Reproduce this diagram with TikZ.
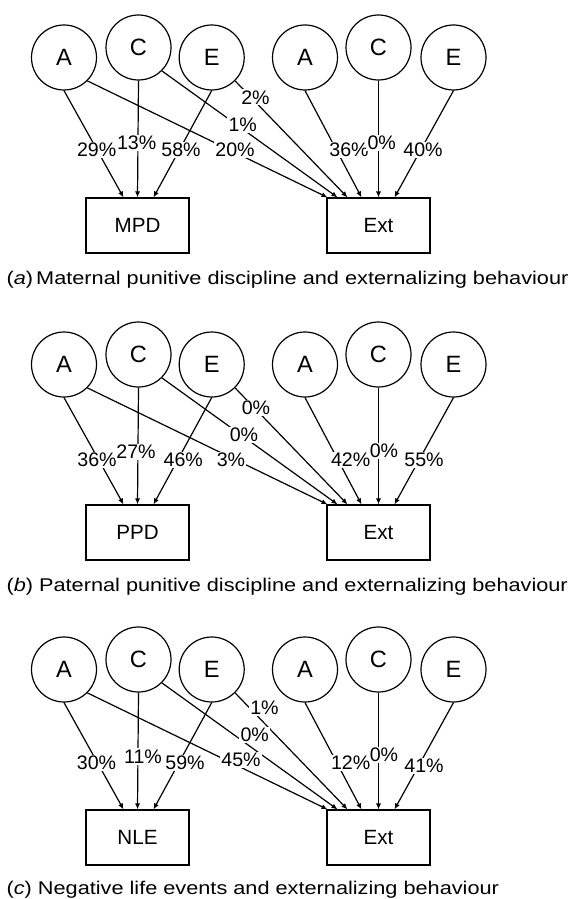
\documentclass[tikz,border=0pt]{standalone}
\usepackage{fontspec}
\setmainfont{Liberation Sans}
\newfontfamily\capfont[FakeStretch=1.18]{Liberation Sans}
\usetikzlibrary{arrows.meta,calc}

\tikzset{
  ace/.style={circle,draw,minimum size=32.5pt,inner sep=0pt,font=\fontsize{11.8}{13}\selectfont},
  obs/.style={rectangle,draw,minimum width=51.5pt,minimum height=27.5pt,inner sep=0pt,font=\fontsize{10.3}{12}\selectfont},
  link/.style={-{Latex[length=3pt,width=2.6pt]}},
  pct/.style={fill=white,inner sep=0.6pt,font=\fontsize{9.8}{11}\selectfont},
  captext/.style={anchor=west,inner sep=0pt,font=\capfont\fontsize{9.2}{11}\selectfont}
}

\begin{document}
\begin{tikzpicture}[x=0.5pt,y=-0.5pt,line width=0.6pt]
	\useasboundingbox (0,0) rectangle (574,899);
	\begin{scope}
	\node[ace] (aA) at (64,57.5) {A};
	\node[ace] (aC) at (138.5,47.5) {C};
	\node[ace] (aE) at (211.7,57.5) {E};
	\node[ace] (aA2) at (305,57.5) {A};
	\node[ace] (aC2) at (378.5,47.5) {C};
	\node[ace] (aE2) at (453.5,57.5) {E};
	\node[obs] (aMPD) at (137.5,225.5) {MPD};
	\node[obs] (aExt) at (378.5,225.5) {Ext};
	\draw[link] (aA.south) -- ($(aMPD.north)+(-14,0)$);
	\draw[link] (aC.south) -- (aMPD.north);
	\draw[link] (aE.south) -- ($(aMPD.north)+(16,0)$);
	\draw[link] (aA.south east) -- ($(aExt.north)+(-51,0)$);
	\draw[link] (aC.south east) -- ($(aExt.north)+(-41,0)$);
	\draw[link] (aE.south east) -- ($(aExt.north)+(-31,0)$);
	\draw[link] (aA2.south) -- ($(aExt.north)+(-17,0)$);
	\draw[link] (aC2.south) -- (aExt.north);
	\draw[link] (aE2.south) -- ($(aExt.north)+(16,0)$);
	\node[pct] (aAp) at (96.7,150) {29\%};
	\node[pct] (aCp) at (136.7,142.7) {13\%};
	\node[pct] (aEp) at (181,150) {58\%};
	\node[pct] (aAq) at (235,150) {20\%};
	\node[pct] (aCq) at (242.7,125) {1\%};
	\node[pct] (aEq) at (255.5,97.3) {2\%};
	\node[pct] (aA2p) at (349,150) {36\%};
	\node[pct] (aC2p) at (381.7,143) {0\%};
	\node[pct] (aE2p) at (423,150) {40\%};
	\node[captext] (acap) at (6,280) {(\textit{a})\,Maternal punitive discipline and externalizing behaviour};
	\end{scope}
	\begin{scope}[shift={(0,307)}]
	\node[ace] (bA) at (64,57.5) {A};
	\node[ace] (bC) at (138.5,47.5) {C};
	\node[ace] (bE) at (211.7,57.5) {E};
	\node[ace] (bA2) at (305,57.5) {A};
	\node[ace] (bC2) at (378.5,47.5) {C};
	\node[ace] (bE2) at (453.5,57.5) {E};
	\node[obs] (bPPD) at (137.5,225.5) {PPD};
	\node[obs] (bExt) at (378.5,225.5) {Ext};
	\draw[link] (bA.south) -- ($(bPPD.north)+(-14,0)$);
	\draw[link] (bC.south) -- (bPPD.north);
	\draw[link] (bE.south) -- ($(bPPD.north)+(16,0)$);
	\draw[link] (bA.south east) -- ($(bExt.north)+(-51,0)$);
	\draw[link] (bC.south east) -- ($(bExt.north)+(-41,0)$);
	\draw[link] (bE.south east) -- ($(bExt.north)+(-31,0)$);
	\draw[link] (bA2.south) -- ($(bExt.north)+(-17,0)$);
	\draw[link] (bC2.south) -- (bExt.north);
	\draw[link] (bE2.south) -- ($(bExt.north)+(16,0)$);
	\node[pct] (bAp) at (97,153) {36\%};
	\node[pct] (bCp) at (136,145) {27\%};
	\node[pct] (bEp) at (183.3,153) {46\%};
	\node[pct] (bAq) at (231,153) {3\%};
	\node[pct] (bCq) at (244,128) {0\%};
	\node[pct] (bEq) at (256,101) {0\%};
	\node[pct] (bA2p) at (350.7,153) {42\%};
	\node[pct] (bC2p) at (384,144) {0\%};
	\node[pct] (bE2p) at (424,153) {55\%};
	\node[captext] (bcap) at (6,279.5) {(\textit{b})\ Paternal punitive discipline and externalizing behaviour};
	\end{scope}
	\begin{scope}[shift={(0,612)}]
	\node[ace] (cA) at (64,57.5) {A};
	\node[ace] (cC) at (138.5,47.5) {C};
	\node[ace] (cE) at (211.7,57.5) {E};
	\node[ace] (cA2) at (305,57.5) {A};
	\node[ace] (cC2) at (378.5,47.5) {C};
	\node[ace] (cE2) at (453.5,57.5) {E};
	\node[obs] (cNLE) at (137.5,225.5) {NLE};
	\node[obs] (cExt) at (378.5,225.5) {Ext};
	\draw[link] (cA.south) -- ($(cNLE.north)+(-14,0)$);
	\draw[link] (cC.south) -- (cNLE.north);
	\draw[link] (cE.south) -- ($(cNLE.north)+(16,0)$);
	\draw[link] (cA.south east) -- ($(cExt.north)+(-51,0)$);
	\draw[link] (cC.south east) -- ($(cExt.north)+(-41,0)$);
	\draw[link] (cE.south east) -- ($(cExt.north)+(-31,0)$);
	\draw[link] (cA2.south) -- ($(cExt.north)+(-17,0)$);
	\draw[link] (cC2.south) -- (cExt.north);
	\draw[link] (cE2.south) -- ($(cExt.north)+(16,0)$);
	\node[pct] (cAp) at (96.5,151) {30\%};
	\node[pct] (cCp) at (143,144.5) {11\%};
	\node[pct] (cEp) at (185,151) {59\%};
	\node[pct] (cAq) at (241,148) {45\%};
	\node[pct] (cCq) at (254.7,123) {0\%};
	\node[pct] (cEq) at (264.5,96) {1\%};
	\node[pct] (cA2p) at (350.7,151) {12\%};
	\node[pct] (cC2p) at (384,143) {0\%};
	\node[pct] (cE2p) at (424,154) {41\%};
	\node[captext] (ccap) at (6,277.5) {(\textit{c})\ Negative life events and externalizing behaviour};
	\end{scope}
\end{tikzpicture}
\end{document}
